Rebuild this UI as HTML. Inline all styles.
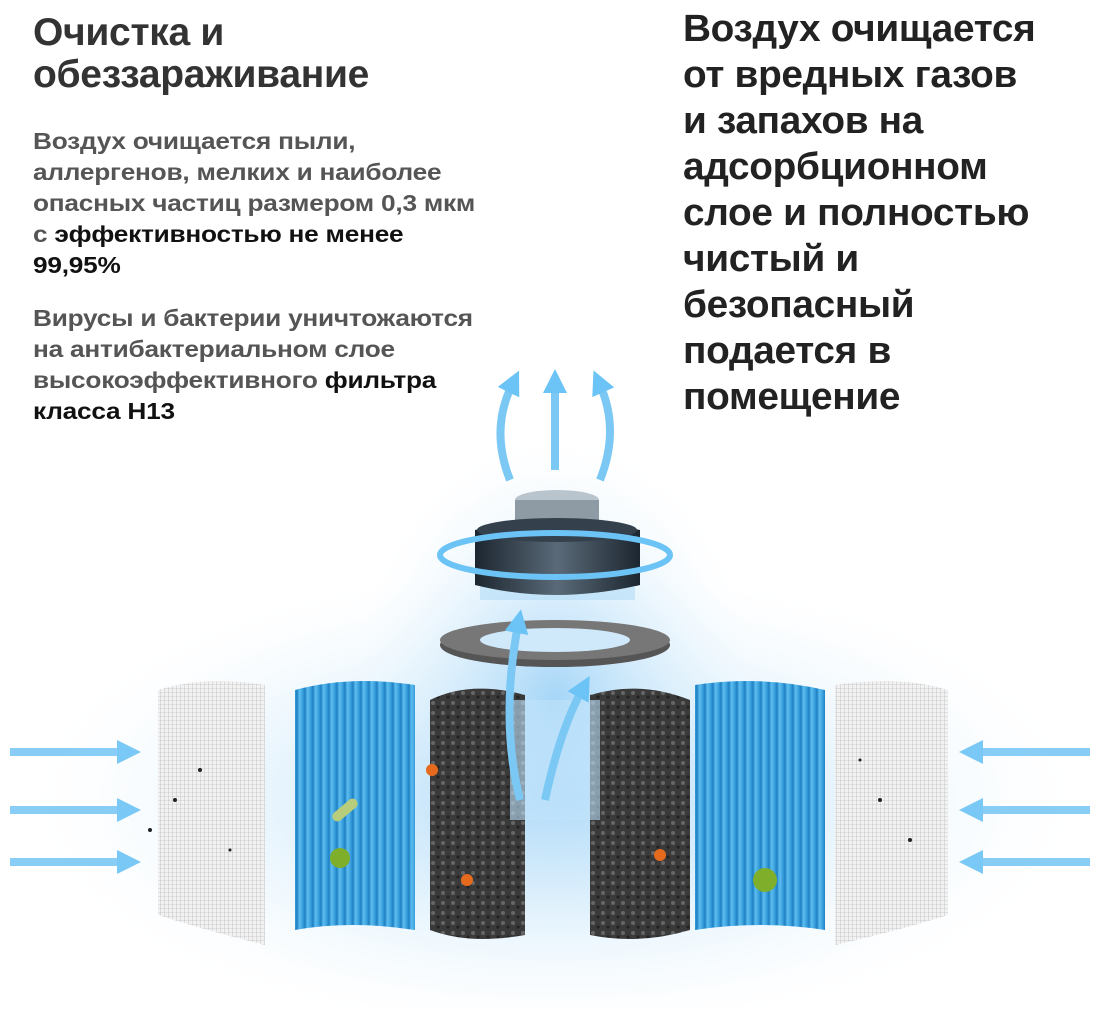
<!DOCTYPE html>
<html><head><meta charset="utf-8"><style>
body{margin:0;width:1100px;height:1010px;background:#fff;position:relative;overflow:hidden;font-family:"Liberation Sans",sans-serif}
.t{position:absolute;white-space:nowrap;font-weight:bold;transform-origin:0 0}
.h{left:33px;font-size:39px;color:#333;line-height:42px;top:12px;letter-spacing:-0.3px}
.p{left:33px;font-size:23px;color:#555;line-height:31px;letter-spacing:-0.2px;transform:scaleX(1.14)}
.p b{color:#111}
.r{left:683px;top:6px;font-size:38px;line-height:46px;color:#222;letter-spacing:-0.3px;transform:scaleX(1.02)}
</style></head><body>
<svg width="1100" height="1010" style="position:absolute;left:0;top:0">
<defs>
<radialGradient id="g" cx="0.5" cy="0.5" r="0.5"><stop offset="0" stop-color="#9fd3f7" stop-opacity="0.9"/><stop offset="1" stop-color="#e8f5fd" stop-opacity="0"/></radialGradient>
<linearGradient id="bl" x1="0" x2="1"><stop offset="0" stop-color="#2a8fd0"/><stop offset="0.5" stop-color="#5bbcf0"/><stop offset="1" stop-color="#2a8fd0"/></linearGradient>
<linearGradient id="mo" x1="0" x2="1"><stop offset="0" stop-color="#1c2630"/><stop offset="0.5" stop-color="#5a6a78"/><stop offset="1" stop-color="#1c2630"/></linearGradient>
<pattern id="pl" width="8" height="10" patternUnits="userSpaceOnUse"><rect width="8" height="10" fill="url(#bl)"/><rect width="2" height="10" fill="#1f7fc0" opacity="0.6"/></pattern>
<pattern id="ms" width="4" height="4" patternUnits="userSpaceOnUse"><rect width="4" height="4" fill="#f2f2f2"/><path d="M0 0H4M0 0V4" stroke="#aaa" stroke-width="0.6"/></pattern>
<pattern id="gr" width="10" height="10" patternUnits="userSpaceOnUse"><rect width="10" height="10" fill="#3a3a3a"/><circle cx="3" cy="3" r="2" fill="#666"/><circle cx="8" cy="7" r="1.6" fill="#222"/></pattern>
<marker id="ah" markerWidth="3" markerHeight="3" refX="1" refY="1.5" orient="auto"><path d="M0 0L3 1.5L0 3z" fill="#6cc3f5"/></marker>
</defs>
<ellipse cx="555" cy="800" rx="520" ry="230" fill="url(#g)"/>
<ellipse cx="555" cy="700" rx="200" ry="260" fill="url(#g)"/>
<g stroke="#7cc8f5" stroke-width="8" fill="none" marker-end="url(#ah)" opacity="0.9">
<path d="M10 752H125"/><path d="M10 810H125"/><path d="M10 862H125"/>
<path d="M1090 752H975"/><path d="M1090 810H975"/><path d="M1090 862H975"/>
</g>
<path d="M158 690Q205 675 265 685V945Q205 930 158 915Z" fill="url(#ms)"/>
<path d="M948 690Q900 675 835 685V945Q900 930 948 915Z" fill="url(#ms)"/>
<path d="M295 690Q350 675 415 685V930Q350 920 295 930Z" fill="url(#pl)"/>
<path d="M695 685Q760 675 825 690V930Q760 920 695 930Z" fill="url(#pl)"/>
<path d="M430 700Q470 680 525 695V935Q470 945 430 930Z" fill="url(#gr)"/>
<path d="M590 695Q640 680 690 700V930Q640 945 590 935Z" fill="url(#gr)"/>
<rect x="510" y="700" width="90" height="120" fill="#bfe3fa" opacity="0.6"/>
<ellipse cx="555" cy="645" rx="115" ry="22" fill="#555"/>
<ellipse cx="555" cy="640" rx="115" ry="20" fill="#777"/>
<ellipse cx="555" cy="640" rx="75" ry="12" fill="#cfe9fb"/>
<rect x="480" y="530" width="155" height="70" fill="#a9d8f5" opacity="0.5"/>
<path d="M475 530Q555 510 640 530V585Q555 605 475 585Z" fill="url(#mo)"/>
<ellipse cx="557" cy="500" rx="42" ry="10" fill="#bac4cc"/>
<rect x="515" y="500" width="84" height="30" fill="#8e9aa4"/>
<ellipse cx="557" cy="530" rx="80" ry="12" fill="#34404c"/>
<ellipse cx="555" cy="555" rx="115" ry="22" fill="none" stroke="#6cc3f5" stroke-width="6"/>
<g stroke="#7cc8f5" stroke-width="8" fill="none" marker-end="url(#ah)">
<path d="M510 480Q490 430 512 385"/><path d="M555 470V385"/><path d="M600 480Q620 430 600 385"/>
<path d="M520 800Q500 720 518 625"/><path d="M545 800Q560 730 582 690"/>
</g>
<g fill="#222"><circle cx="175" cy="800" r="2"/><circle cx="200" cy="770" r="2"/><circle cx="150" cy="830" r="2"/><circle cx="230" cy="850" r="1.5"/><circle cx="880" cy="800" r="2"/><circle cx="910" cy="840" r="2"/><circle cx="860" cy="760" r="1.5"/></g>
<circle cx="340" cy="858" r="10" fill="#7fae2a"/><circle cx="765" cy="880" r="12" fill="#7fae2a"/>
<rect x="330" y="805" width="30" height="10" rx="5" fill="#b7cd7c" transform="rotate(-40 345 810)"/>
<circle cx="432" cy="770" r="6" fill="#e66a1e"/><circle cx="467" cy="880" r="6" fill="#e66a1e"/><circle cx="660" cy="855" r="6" fill="#e66a1e"/>
</svg>
<div class="t h">Очистка и<br>обеззараживание</div>
<div class="t p" style="top:126px">Воздух очищается пыли,<br>аллергенов, мелких и наиболее<br>опасных частиц размером 0,3 мкм<br>с <b>эффективностью не менее<br>99,95%</b></div>
<div class="t p" style="top:303px">Вирусы и бактерии уничтожаются<br>на антибактериальном слое<br>высокоэффективного <b>фильтра<br>класса H13</b></div>
<div class="t r">Воздух очищается<br>от вредных газов<br>и запахов на<br>адсорбционном<br>слое и полностью<br>чистый и<br>безопасный<br>подается в<br>помещение</div>
</body></html>
